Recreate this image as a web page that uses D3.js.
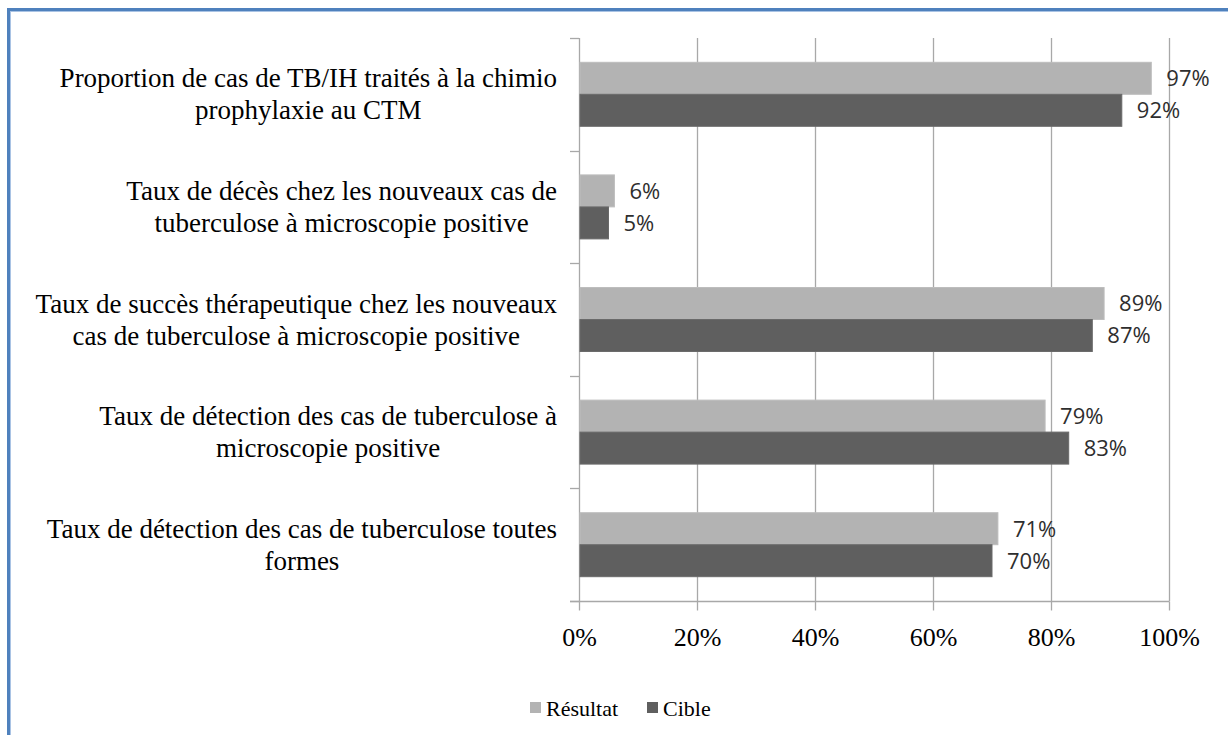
<!DOCTYPE html>
<html>
<head>
<meta charset="utf-8">
<script src="https://cdn.jsdelivr.net/npm/d3@7"></script>
<style>
  html, body { margin: 0; padding: 0; background: #ffffff; }
  svg { display: block; }
</style>
</head>
<body>
<svg id="chart" width="1228" height="735"></svg>
<script>
// Indicator names (line breaks mark the wrapped label lines)
const categories = [
  "Proportion de cas de TB/IH traités à la chimio\nprophylaxie au CTM",
  "Taux de décès chez les nouveaux cas de\ntuberculose à microscopie positive",
  "Taux de succès thérapeutique chez les nouveaux\ncas de tuberculose à microscopie positive",
  "Taux de détection des cas de tuberculose à\nmicroscopie positive",
  "Taux de détection des cas de tuberculose toutes\nformes"
];
const seriesNames = ["Résultat", "Cible"];
const resultat = [97, 6, 89, 79, 71];
const cible = [92, 5, 87, 83, 70];
const xTicks = [0, 20, 40, 60, 80, 100];

const colors = { "Résultat": "#b3b3b3", "Cible": "#5f5f5f" };
const strokes = { "Résultat": "#bdbdbd", "Cible": "#6a6a6a" };
const gridColor = "#a8a8a8";

const svg = d3.select("#chart");

// Outer frame
svg.append("rect")
  .attr("x", 8.5).attr("y", 9.5).attr("width", 1240).attr("height", 760)
  .attr("fill", "none").attr("stroke", "#4f81bd").attr("stroke-width", 3);
svg.append("rect")
  .attr("x", 10.5).attr("y", 11.5).attr("width", 1240).attr("height", 760)
  .attr("fill", "none").attr("stroke", "#a9c3e4").attr("stroke-width", 1);

const plot = { left: 579, right: 1169, top: 38, bottom: 601 };

const x = d3.scaleLinear().domain([0, 100]).range([plot.left, plot.right]);
const y = d3.scaleBand().domain(categories).range([plot.top, plot.bottom]).padding(0);
const ySeries = d3.scaleBand().domain(seriesNames).range([0, y.bandwidth()])
  .paddingInner(0).paddingOuter(0.76);

const rows = categories.map((c, i) => ({
  cat: c,
  values: [
    { series: "Résultat", value: resultat[i] },
    { series: "Cible", value: cible[i] }
  ]
}));

// Vertical gridlines
svg.append("g")
  .selectAll("line")
  .data(xTicks.filter(t => t > 0))
  .join("line")
  .attr("x1", d => x(d) + 0.5).attr("x2", d => x(d) + 0.5)
  .attr("y1", plot.top).attr("y2", plot.bottom)
  .attr("stroke", gridColor).attr("stroke-width", 1.3);

// Bottom axis
const xAxis = svg.append("g")
  .attr("transform", `translate(0,${plot.bottom + 0.5})`)
  .call(d3.axisBottom(x).tickValues(xTicks).tickFormat(d => d + "%").tickSize(9).tickPadding(17).tickSizeOuter(0));
xAxis.select(".domain").attr("stroke", gridColor).attr("stroke-width", 1.3)
  .attr("d", `M${plot.left - 9},0H${plot.right + 0.5}`);
xAxis.selectAll(".tick line").attr("stroke", gridColor).attr("stroke-width", 1.3);
xAxis.selectAll(".tick text")
  .attr("font-family", "'Liberation Serif', 'Times New Roman', serif")
  .attr("font-size", 26).attr("fill", "#000");

// Left axis with ticks at category boundaries
const boundaries = categories.map(c => y(c)).concat([plot.bottom]);
const yAxisG = svg.append("g");
yAxisG.append("line")
  .attr("x1", plot.left + 0.5).attr("x2", plot.left + 0.5)
  .attr("y1", plot.top).attr("y2", plot.bottom)
  .attr("stroke", gridColor).attr("stroke-width", 1.3);
yAxisG.selectAll("line.tk")
  .data(boundaries)
  .join("line").attr("class", "tk")
  .attr("x1", plot.left - 9).attr("x2", plot.left)
  .attr("y1", d => Math.round(d) + 0.5).attr("y2", d => Math.round(d) + 0.5)
  .attr("stroke", gridColor).attr("stroke-width", 1.3);

// Bars
const groups = svg.append("g").selectAll("g")
  .data(rows)
  .join("g")
  .attr("transform", d => `translate(0,${y(d.cat)})`);

groups.selectAll("rect")
  .data(d => d.values)
  .join("rect")
  .attr("x", x(0) + 1)
  .attr("y", d => ySeries(d.series))
  .attr("width", d => x(d.value) - x(0) - 1)
  .attr("height", ySeries.bandwidth())
  .attr("fill", d => colors[d.series])
  .attr("stroke", d => strokes[d.series])
  .attr("stroke-width", 1);

// Value labels
groups.selectAll("text")
  .data(d => d.values)
  .join("text")
  .attr("x", d => x(d.value) + 15)
  .attr("y", d => ySeries(d.series) + ySeries.bandwidth() / 2 + 8)
  .attr("font-family", "'Open Sans', sans-serif")
  .attr("font-size", 22)
  .attr("fill", "#2e2e2e")
  .text(d => d.value + "%");

// Category labels: wrapped lines, centered within a right-aligned block
const labelRight = 557;
const lineGap = 32;
categories.forEach(c => {
  const lines = c.split("\n");
  const g = svg.append("g");
  const texts = g.selectAll("text")
    .data(lines)
    .join("text")
    .attr("font-family", "'Liberation Serif', 'Times New Roman', serif")
    .attr("font-size", 27)
    .attr("fill", "#000")
    .attr("text-anchor", "middle")
    .text(d => d);
  let maxW = 0;
  texts.each(function () { maxW = Math.max(maxW, this.getComputedTextLength()); });
  const cx = labelRight - maxW / 2;
  const cy = y(c) + y.bandwidth() / 2;
  texts
    .attr("x", cx)
    .attr("y", (d, i) => cy + (i - (lines.length - 1) / 2) * lineGap + 9);
});

// Legend
const legend = svg.append("g");
const legendItems = [
  { name: "Résultat", x: 530 },
  { name: "Cible", x: 647 }
];
legend.selectAll("rect")
  .data(legendItems)
  .join("rect")
  .attr("x", d => d.x).attr("y", 702)
  .attr("width", 11).attr("height", 11)
  .attr("fill", d => colors[d.name]);
legend.selectAll("text")
  .data(legendItems)
  .join("text")
  .attr("x", d => d.x + 16).attr("y", 716)
  .attr("font-family", "'Liberation Serif', 'Times New Roman', serif")
  .attr("font-size", 22)
  .attr("fill", "#000")
  .text(d => d.name);
</script>
</body>
</html>
